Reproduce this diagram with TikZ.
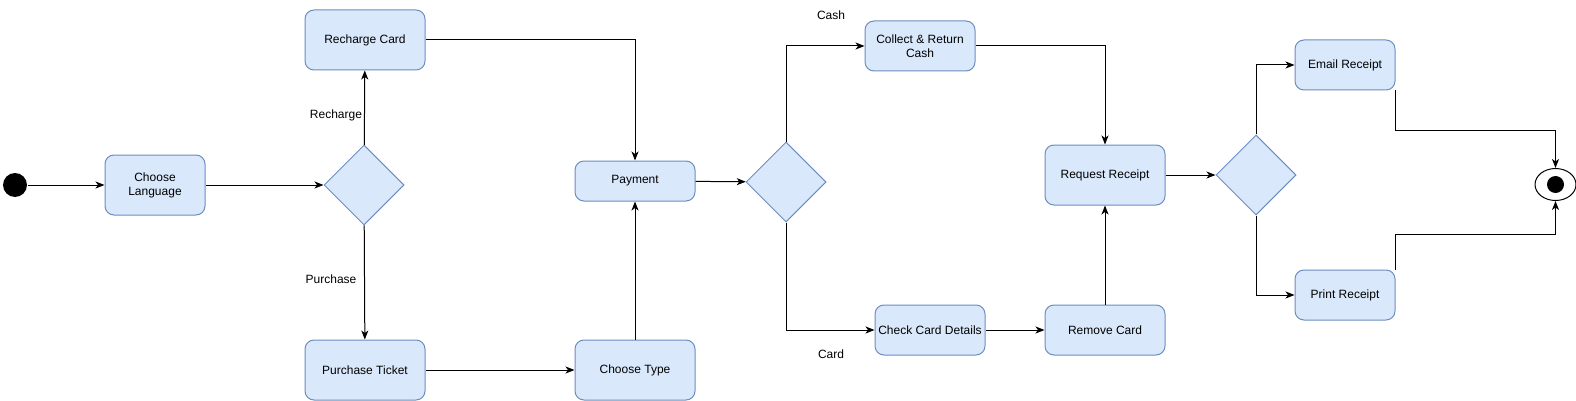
\documentclass[tikz,border=0pt]{standalone}
\usepackage{fontspec}
\setmainfont{Liberation Sans}
\usetikzlibrary{shapes.geometric, positioning, arrows.meta}
\definecolor{boxfill}{HTML}{DAE8FC}
\definecolor{boxline}{HTML}{6C8EBF}
\tikzset{
x=1pt, y=-1pt, % one unit is one pixel of the sketch
>={Stealth[length=9pt,width=7pt,inset=2.5pt]}, % block arrow heads
every path/.style={line width=1pt}, % plain black connectors
node distance=100pt, on grid, % distances are taken centre to centre
font=\fontsize{12}{14}\selectfont,
activity/.style={draw=boxline, fill=boxfill, rounded corners=9pt, align=center,
  minimum width=120pt, minimum height=60pt, inner sep=2pt},
choice/.style={diamond, draw=boxline, fill=boxfill, aspect=1,
  minimum width=80pt, minimum height=80pt, inner sep=0pt},
initial/.style={circle, fill=black, minimum size=24pt, inner sep=0pt},
guard/.style={inner sep=1pt}
}
\begin{document}
\begin{tikzpicture}
      \useasboundingbox (0,0) rectangle (1576,401);
      \node[initial] (start) at (15,185) {};
      \node[activity, minimum width=100pt, right=140pt of start] (lang) {Choose\\Language};
      \node[choice, right=209pt of lang] (dec1) {};
      \node[activity, above=145pt of dec1, xshift=1pt] (recharge) {Recharge Card};
      \node[activity, below=185pt of dec1, xshift=1pt] (purchase) {Purchase Ticket};
      \node[activity, right=270pt of purchase] (type) {Choose Type};
      \node[activity, minimum height=40pt] (pay) at (635,181) {Payment};
      \node[choice] (dec2) at (786,182) {};
      \node[activity, minimum width=110pt, minimum height=50pt] (collect) at (920,46) {Collect \& Return\\Cash};
      \node[activity, minimum width=110pt, minimum height=50pt] (check) at (930,330) {Check Card Details};
      \node[activity, minimum height=50pt, right=175pt of check] (remove) {Remove Card};
      \node[activity] (request) at (1105,175) {Request Receipt};
      \node[choice, right=151pt of request] (dec3) {};
      \node[activity, minimum width=100pt, minimum height=50pt] (email) at (1345,65) {Email Receipt};
      \node[activity, minimum width=100pt, minimum height=50pt] (print) at (1345,295) {Print Receipt};
      \node[ellipse, draw, minimum width=41pt, minimum height=32pt, inner sep=0pt] (finish) at (1555.5,184.5) {};
      \node[circle, fill=black, minimum size=17pt, inner sep=0pt] (finishdot) at (finish.center) {};

      % guard labels
      \node[guard] (lblrecharge) at (336,115) {Recharge};
      \node[guard] (lblpurchase) at (331,279) {Purchase};
      \node[guard] (lblcash) at (831,15) {Cash};
      \node[guard] (lblcard) at (831,354) {Card};

      \draw[->] (start) -- (lang);
      \draw[->] (lang) -- (dec1);
      \draw[->] (dec1) -- (recharge);
      \draw[->] (dec1) -- (purchase);
      \draw[->] (recharge.east) -| (pay.north);
      \draw[->] (purchase) -- (type);
      \draw[->] (type) -- (pay);
      \draw[->] (pay) -- (dec2);
      \draw[->] (dec2.north) |- (collect.west);
      \draw[->] (dec2.south) |- (check.west);
      \draw[->] (collect.east) -| (request.north);
      \draw[->] (check) -- (remove);
      \draw[->] (remove) -- (request);
      \draw[->] (request) -- (dec3);
      \draw[->] (dec3.north) |- (email.west);
      \draw[->] (dec3.south) |- (print.west);
      \draw[->] (email.south east) -- ++(0,40) -| (finish.north);
      \draw[->] (print.north east) -- ++(0,-35) -| (finish.south);
    \end{tikzpicture}
\end{document}
